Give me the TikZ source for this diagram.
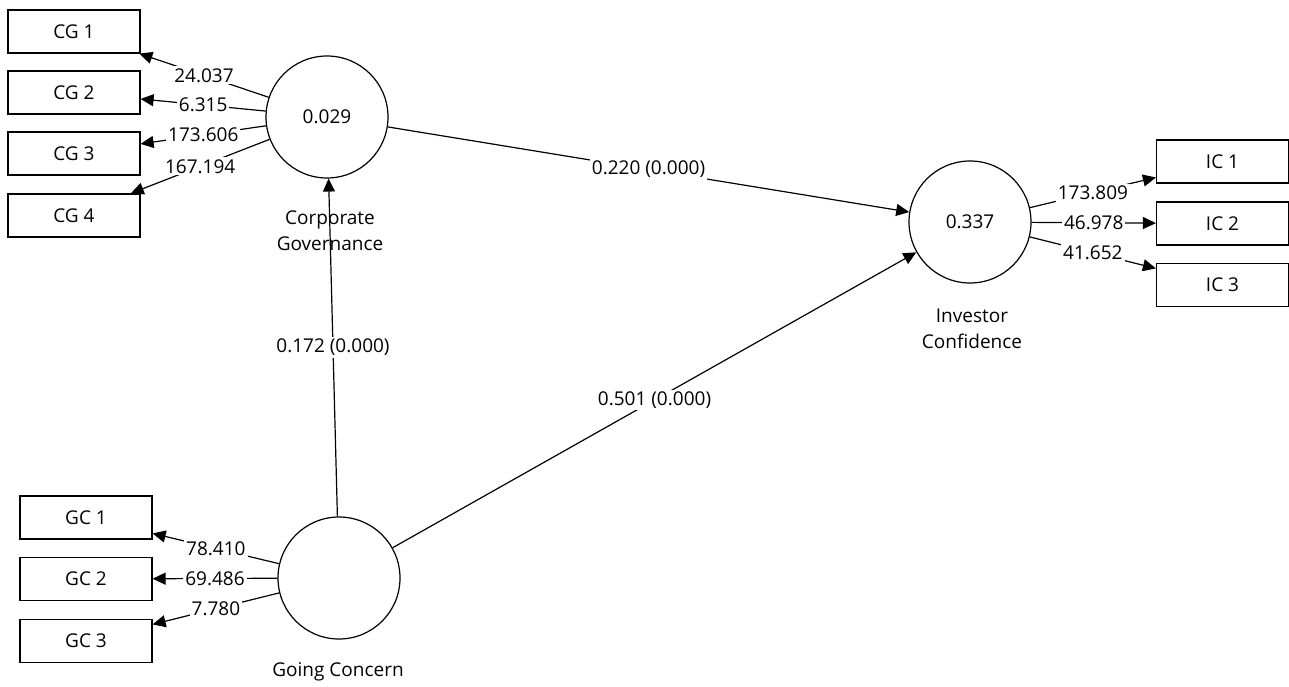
\documentclass[tikz,border=0pt]{standalone}
\usepackage{fontspec}
\setmainfont{Open Sans}
\usetikzlibrary{arrows.meta,positioning}

\begin{document}
\begin{tikzpicture}[x=1pt,y=-1pt,
  every node/.style={font=\fontsize{19}{26}\selectfont},
  lv/.style={draw=black,circle,line width=1.2pt,minimum size=122pt,inner sep=0pt},
  ind/.style={draw=black,line width=1.2pt,minimum width=132pt,minimum height=43pt,inner sep=0pt},
  load/.style={-{Triangle[length=13pt,width=12pt]},draw=black,line width=1.2pt},
  lbl/.style={fill=white,inner sep=2pt},
  lvname/.style={align=center}]

\useasboundingbox (0,0) rectangle (1289,687);

% latent variables
\node[lv] (cg) at (327,117) {0.029};
\node[lv] (gc) at (339,578) {};
\node[lv] (ic) at (970,222) {0.337};
\node[lvname] (cglab) at (330,231) {Corporate\\Governance};
\node[lvname] (gclab) at (338,672) {Going Concern};
\node[lvname] (iclab) at (972,329) {Investor\\Confidence};

% indicators
\node[ind] (cg1) at (74,31.5) {CG 1};
\node[ind] (cg2) at (74,92.5) {CG 2};
\node[ind] (cg3) at (74,153.5) {CG 3};
\node[ind] (cg4) at (74,215.5) {CG 4};
\node[ind] (gc1) at (86,517.5) {GC 1};
\node[ind] (gc2) at (86,579) {GC 2};
\node[ind] (gc3) at (86,641) {GC 3};
\node[ind] (ic1) at (1222.5,161.5) {IC 1};
\node[ind] (ic2) at (1222.5,223.5) {IC 2};
\node[ind] (ic3) at (1222.5,285) {IC 3};

% outer loadings
\draw[load] (cg) -- node[lbl]{24.037} (cg1);
\draw[load] (cg) -- node[lbl]{6.315} (cg2);
\draw[load] (cg) -- node[lbl]{173.606} (cg3);
\draw[load] (cg) -- node[lbl]{167.194} (cg4);
\draw[load] (gc) -- node[lbl]{78.410} (gc1);
\draw[load] (gc) -- node[lbl]{69.486} (gc2);
\draw[load] (gc) -- node[lbl]{7.780} (gc3);
\draw[load] (ic) -- node[lbl]{173.809} (ic1);
\draw[load] (ic) -- node[lbl]{46.978} (ic2);
\draw[load] (ic) -- node[lbl]{41.652} (ic3);

% path coefficients
\draw[load] (gc) -- node[lbl]{0.172 (0.000)} (cg);
\draw[load] (cg) -- node[lbl]{0.220 (0.000)} (ic);
\draw[load] (gc) -- node[lbl]{0.501 (0.000)} (ic);

\end{tikzpicture}
\end{document}
